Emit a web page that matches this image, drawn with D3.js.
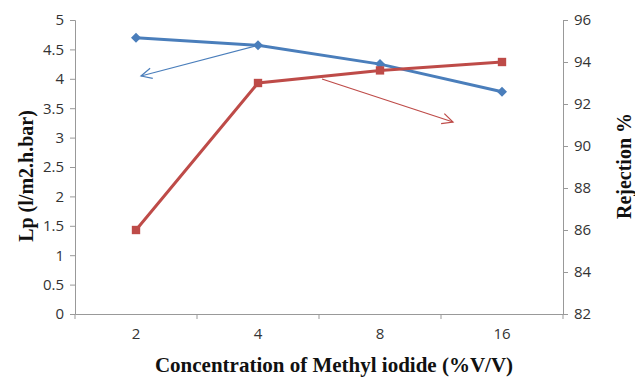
<!DOCTYPE html>
<html>
<head>
<meta charset="utf-8">
<script src="https://cdn.jsdelivr.net/npm/d3@7"></script>
<style>
  body { margin: 0; background: #fff; }
  .tick text { font-family: "Open Sans", "Liberation Sans", sans-serif; font-size: 15px; fill: #333; }
  .ttl { font-family: "Liberation Serif", "DejaVu Serif", serif; font-weight: bold; fill: #111; }
</style>
</head>
<body>
<script>
// concentration categories and the two series
var conc = ["2", "4", "8", "16"];
var lp = [4.7, 4.57, 4.25, 3.78];
var rejection = [86, 93, 93.6, 94];
var lpTicks = [0, 0.5, 1, 1.5, 2, 2.5, 3, 3.5, 4, 4.5, 5];
var rejTicks = [82, 84, 86, 88, 90, 92, 94, 96];

var width = 635, height = 377;
var mLeft = 75, mRight = 563, mTop = 20, mBottom = 314;

var svg = d3.select("body").append("svg")
    .attr("width", width)
    .attr("height", height);

var x = d3.scaleBand().domain(conc).range([mLeft, mRight]);
var yL = d3.scaleLinear().domain([0, 5]).range([mBottom, mTop]);
var yR = d3.scaleLinear().domain([82, 96]).range([mBottom, mTop]);

// axes
var gx = svg.append("g").attr("transform", "translate(0," + mBottom + ")")
    .call(d3.axisBottom(x).tickSize(0).tickPadding(14));
// boundary ticks between categories
gx.selectAll(".bt").data(d3.range(conc.length + 1)).enter().append("line")
    .attr("x1", i => mLeft + i * x.bandwidth()).attr("x2", i => mLeft + i * x.bandwidth())
    .attr("y1", 0).attr("y2", 5).attr("stroke", "#999");

var gl = svg.append("g").attr("transform", "translate(" + mLeft + ",0)")
    .call(d3.axisLeft(yL).tickValues(lpTicks).tickFormat(d3.format("")).tickSize(5).tickPadding(6));
var gr = svg.append("g").attr("transform", "translate(" + mRight + ",0)")
    .call(d3.axisRight(yR).tickValues(rejTicks).tickSize(5).tickPadding(6));

svg.selectAll(".domain").attr("stroke", "#999");
svg.selectAll(".tick line").attr("stroke", "#999");

// series
var blue = "#4a7ebb", red = "#be4b48";
var cx = d => x(d) + x.bandwidth() / 2;

svg.append("path")
    .datum(conc)
    .attr("fill", "none").attr("stroke", blue).attr("stroke-width", 3)
    .attr("d", d3.line().x(cx).y((d, i) => yL(lp[i])));
svg.append("path")
    .datum(conc)
    .attr("fill", "none").attr("stroke", red).attr("stroke-width", 3)
    .attr("d", d3.line().x(cx).y((d, i) => yR(rejection[i])));

svg.selectAll(".dia").data(conc).enter().append("path")
    .attr("transform", (d, i) => "translate(" + cx(d) + "," + yL(lp[i]) + ")")
    .attr("d", d3.symbol(d3.symbolDiamond2, 64))
    .attr("fill", blue);
svg.selectAll(".sq").data(conc).enter().append("path")
    .attr("transform", (d, i) => "translate(" + cx(d) + "," + yR(rejection[i]) + ")")
    .attr("d", d3.symbol(d3.symbolSquare, 70))
    .attr("fill", red);

// annotation arrows pointing to the axes
function arrow(x1, y1, x2, y2, col) {
  svg.append("line").attr("x1", x1).attr("y1", y1).attr("x2", x2).attr("y2", y2)
    .attr("stroke", col).attr("stroke-width", 1.2);
  var a = Math.atan2(y1 - y2, x1 - x2), l = 12, s = 0.45;
  var p = d3.path();
  p.moveTo(x2 + l * Math.cos(a + s), y2 + l * Math.sin(a + s));
  p.lineTo(x2, y2);
  p.lineTo(x2 + l * Math.cos(a - s), y2 + l * Math.sin(a - s));
  svg.append("path").attr("d", p.toString()).attr("fill", "none")
    .attr("stroke", col).attr("stroke-width", 1.2);
}
arrow(cx("4"), yL(lp[1]), 141, 76, blue);
arrow(322, 79, 453, 122, red);

// titles
svg.append("text").attr("class", "ttl")
    .attr("x", 334).attr("y", 372)
    .attr("text-anchor", "middle").attr("font-size", 21)
    .text("Concentration of Methyl iodide (%V/V)");
svg.append("text").attr("class", "ttl")
    .attr("transform", "translate(33,176) rotate(-90)")
    .attr("text-anchor", "middle").attr("font-size", 20)
    .text("Lp (l/m2.h.bar)");
svg.append("text").attr("class", "ttl")
    .attr("transform", "translate(631,166) rotate(-90)")
    .attr("text-anchor", "middle").attr("font-size", 20)
    .text("Rejection %");
</script>
</body>
</html>
